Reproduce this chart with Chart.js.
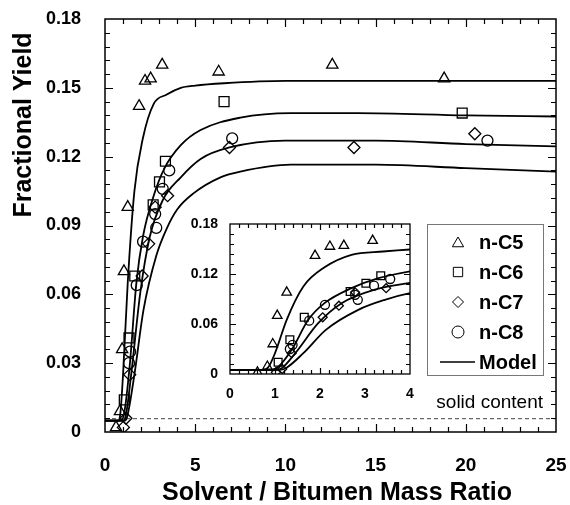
<!DOCTYPE html>
<html>
<head>
<meta charset="utf-8">
<script src="https://cdn.jsdelivr.net/npm/chart.js@4/dist/chart.umd.min.js"></script>
<style>
  html, body { margin: 0; padding: 0; background: #fff; }
  #wrap { position: relative; width: 570px; height: 505px; }
  #main { position: absolute; left: 0; top: 0; }
  #inset { position: absolute; left: 180px; top: 212px; }
</style>
</head>
<body>
<div id="wrap">
  <canvas id="main" width="570" height="505"></canvas>
  <canvas id="inset" width="240" height="198"></canvas>
</div>
<script>
const c5X = [0.61, 0.83, 0.95, 1.05, 1.26, 1.89, 2.22, 2.53, 3.17, 6.3, 12.6, 18.8];
const c5Y = [0.002, 0.009, 0.036, 0.070, 0.098, 0.142, 0.153, 0.154, 0.160, 0.157, 0.160, 0.154];
const c6X = [1.07, 1.33, 1.65, 2.67, 3.02, 3.35, 6.6, 19.8];
const c6Y = [0.014, 0.041, 0.068, 0.099, 0.109, 0.118, 0.144, 0.139];
const c7X = [1.02, 1.16, 1.37, 2.06, 2.42, 2.78, 3.47, 6.9, 13.8, 20.5];
const c7Y = [0.002, 0.006, 0.025, 0.068, 0.082, 0.098, 0.103, 0.124, 0.124, 0.130];
const c8X = [1.33, 1.39, 1.76, 2.11, 2.78, 2.84, 3.2, 3.56, 7.05, 21.2];
const c8Y = [0.030, 0.035, 0.064, 0.083, 0.095, 0.089, 0.106, 0.114, 0.128, 0.127];

// model curves
const m1X = [0, 0.75, 0.85, 1.0, 1.26, 1.63, 2.1, 2.7, 3.4, 4.2, 5, 6.6, 10, 15, 20, 25];
const m1Y = [0.005, 0.005, 0.008, 0.025, 0.065, 0.105, 0.128, 0.143, 0.147, 0.150, 0.151, 0.152, 0.153, 0.153, 0.153, 0.153];
const m2X = [0, 0.9, 1.07, 1.37, 1.74, 2.1, 2.7, 3.3, 4.2, 5.3, 7.5, 10.3, 14, 20, 25];
const m2Y = [0.005, 0.005, 0.0085, 0.029, 0.065, 0.085, 0.103, 0.115, 0.125, 0.1316, 0.137, 0.139, 0.139, 0.138, 0.1375];
const m3X = [0, 1.0, 1.15, 1.45, 1.96, 2.48, 3.2, 4.2, 5.3, 6.9, 10, 15, 20, 25];
const m3Y = [0.005, 0.005, 0.007, 0.025, 0.061, 0.085, 0.101, 0.111, 0.119, 0.124, 0.127, 0.127, 0.1255, 0.1245];
const m4X = [0, 1.1, 1.24, 1.63, 2.13, 2.85, 3.44, 4.0, 4.9, 6.4, 7.5, 10.3, 15, 20, 25];
const m4Y = [0.005, 0.005, 0.007, 0.025, 0.053, 0.077, 0.089, 0.097, 0.104, 0.111, 0.1135, 0.1165, 0.1165, 0.115, 0.1135];

const solidContent = 0.0058;

const seriesNames = ['n-C5', 'n-C6', 'n-C7', 'n-C8'];
const seriesShapes = ['triangle', 'rect', 'rectRot', 'circle'];
const mainRadius = [6.5, 7, 6, 5.5];
const insetRadius = [5.5, 5.5, 4.5, 4.5];

const FONT = '"Liberation Sans", Arial, Helvetica, sans-serif';

function pts(xs, ys) {
    return xs.map((x, i) => ({x: x, y: ys[i]}));
}

const measured = [pts(c5X, c5Y), pts(c6X, c6Y), pts(c7X, c7Y), pts(c8X, c8Y)];
const models = [pts(m1X, m1Y), pts(m2X, m2Y), pts(m3X, m3Y), pts(m4X, m4Y)];

function buildDatasets(radius, withDash) {
    const sets = measured.map((d, i) => ({
        label: seriesNames[i],
        data: d,
        showLine: false,
        pointStyle: seriesShapes[i],
        pointRadius: radius[i],
        pointBorderWidth: 1.3,
        pointBorderColor: '#000',
        pointBackgroundColor: 'rgba(255,255,255,0)'
    }));
    models.forEach(d => sets.push({
        label: 'Model',
        data: d,
        showLine: true,
        cubicInterpolationMode: 'monotone',
        borderColor: '#000',
        borderWidth: 1.8,
        pointRadius: 0
    }));
    if (withDash) {
        sets.push({
            label: 'solid',
            data: [{x: 0, y: solidContent}, {x: 25, y: solidContent}],
            showLine: true,
            borderColor: '#444',
            borderWidth: 1,
            borderDash: [4, 3],
            pointRadius: 0
        });
    }
    return sets;
}

// box round the plot with inward ticks on all four sides
const frame = {
    id: 'frame',
    afterDatasetsDraw(chart, args, o) {
        const {ctx, chartArea: a} = chart;
        const x = chart.scales.x, y = chart.scales.y;
        ctx.save();
        ctx.strokeStyle = '#000';
        ctx.lineWidth = o.lineWidth;
        ctx.strokeRect(a.left, a.top, a.right - a.left, a.bottom - a.top);
        ctx.lineWidth = 1.2;
        ctx.beginPath();
        let n = Math.round((x.max - x.min) / o.xStep);
        for (let i = 1; i < n; i++) {
            const px = Math.round(x.getPixelForValue(x.min + i * o.xStep)) + 0.5;
            const len = i % o.every === 0 ? o.major : o.minor;
            ctx.moveTo(px, a.bottom); ctx.lineTo(px, a.bottom - len);
            ctx.moveTo(px, a.top); ctx.lineTo(px, a.top + len);
        }
        n = Math.round((y.max - y.min) / o.yStep);
        for (let i = 1; i < n; i++) {
            const py = Math.round(y.getPixelForValue(y.min + i * o.yStep)) + 0.5;
            const len = i % o.every === 0 ? o.major : o.minor;
            ctx.moveTo(a.left, py); ctx.lineTo(a.left + len, py);
            ctx.moveTo(a.right, py); ctx.lineTo(a.right - len, py);
        }
        ctx.stroke();
        ctx.restore();
    }
};

// axis titles, legend box and the dashed-line note
const annotate = {
    id: 'annotate',
    afterDraw(chart) {
        const ctx = chart.ctx;
        ctx.save();
        ctx.fillStyle = '#000';
        ctx.textBaseline = 'middle';
        ctx.font = 'bold 25px ' + FONT;
        ctx.textAlign = 'center';
        ctx.fillText('Solvent / Bitumen Mass Ratio', 337, 493);
        ctx.save();
        ctx.translate(24, 125);
        ctx.rotate(-Math.PI / 2);
        ctx.fillText('Fractional Yield', 0, 0);
        ctx.restore();

        ctx.font = '19px ' + FONT;
        ctx.textAlign = 'right';
        ctx.fillText('solid content', 543, 403);

        // legend
        ctx.strokeStyle = '#777';
        ctx.lineWidth = 1;
        ctx.strokeRect(427.5, 224.5, 116, 151);
        ctx.font = 'bold 20px ' + FONT;
        ctx.textAlign = 'left';
        const legendR = [6.5, 6.6, 5.5, 6];
        seriesNames.forEach((name, i) => {
            const cy = 242 + i * 30;
            ctx.strokeStyle = '#000';
            ctx.fillStyle = '#fff';
            Chart.helpers.drawPoint(ctx, {pointStyle: seriesShapes[i], radius: legendR[i], rotation: 0, borderWidth: 1.3}, 458, cy + (i === 0 ? 1.5 : 0));
            ctx.fillStyle = '#000';
            ctx.fillText(name, 479, cy + 1);
        });
        ctx.strokeStyle = '#000';
        ctx.lineWidth = 1.5;
        ctx.beginPath();
        ctx.moveTo(440, 362);
        ctx.lineTo(475, 362);
        ctx.stroke();
        ctx.fillText('Model', 479, 363);
        ctx.restore();
    }
};

// fixed axis boxes; drop the label overhang so layout padding places the plot
function fixX(h) {
    return s => { s.height = h; s.paddingLeft = 0; s.paddingRight = 0; };
}
function fixY(w) {
    return s => { s.width = w; s.paddingTop = 0; s.paddingBottom = 0; };
}

new Chart(document.getElementById('main'), {
    type: 'scatter',
    data: {datasets: buildDatasets(mainRadius, true)},
    plugins: [frame, annotate],
    options: {
        responsive: false,
        devicePixelRatio: 1,
        animation: false,
        layout: {autoPadding: false, padding: {top: 19, right: 14, left: 0, bottom: 0}},
        plugins: {
            legend: {display: false},
            tooltip: {enabled: false},
            frame: {lineWidth: 1.5, xStep: 1, yStep: 0.006, every: 5, major: 8, minor: 5}
        },
        scales: {
            x: {
                type: 'linear',
                min: 0, max: 25,
                afterFit: fixX(73),
                grid: {display: false, drawTicks: false},
                border: {display: false},
                ticks: {stepSize: 5, padding: 22, color: '#000', font: {family: FONT, size: 19, weight: 'bold'}}
            },
            y: {
                min: 0, max: 0.18,
                afterFit: fixY(105),
                grid: {display: false, drawTicks: false},
                border: {display: false},
                ticks: {
                    stepSize: 0.03, padding: 24, color: '#000',
                    font: {family: FONT, size: 18, weight: 'bold'},
                    callback: v => v === 0 ? '0' : v.toFixed(2)
                }
            }
        }
    }
});

new Chart(document.getElementById('inset'), {
    type: 'scatter',
    data: {datasets: buildDatasets(insetRadius, false)},
    plugins: [frame],
    options: {
        responsive: false,
        devicePixelRatio: 1,
        animation: false,
        layout: {autoPadding: false, padding: {top: 12, right: 10, left: 0, bottom: 0}},
        plugins: {
            legend: {display: false},
            tooltip: {enabled: false},
            frame: {lineWidth: 1.3, xStep: 0.2, yStep: 0.012, every: 5, major: 6, minor: 4}
        },
        scales: {
            x: {
                type: 'linear',
                min: 0, max: 4,
                afterFit: fixX(36),
                grid: {display: false, drawTicks: false},
                border: {display: false},
                ticks: {stepSize: 1, padding: 12, color: '#000', font: {family: FONT, size: 14, weight: 'bold'}}
            },
            y: {
                min: 0, max: 0.18,
                afterFit: fixY(50),
                grid: {display: false, drawTicks: false},
                border: {display: false},
                ticks: {
                    stepSize: 0.06, padding: 12, color: '#000',
                    font: {family: FONT, size: 14, weight: 'bold'},
                    callback: v => v === 0 ? '0' : v.toFixed(2)
                }
            }
        }
    }
});
</script>
</body>
</html>
